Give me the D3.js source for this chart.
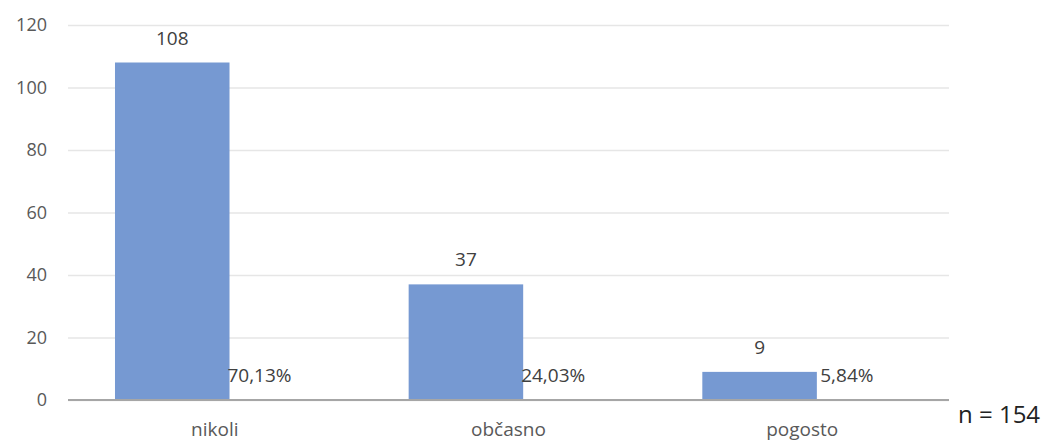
<!DOCTYPE html>
<html>
<head>
<meta charset="utf-8">
<script src="https://cdn.jsdelivr.net/npm/d3@7"></script>
<style>
  body { margin: 0; background: #fff; }
  text { font-family: "Open Sans", sans-serif; }
</style>
</head>
<body>
<script>
const width = 1047;
const height = 443;

const categories = ['nikoli', 'občasno', 'pogosto'];
const counts = [108, 37, 9];
const shares = ['70,13%', '24,03%', '5,84%'];
const yTicks = [0, 20, 40, 60, 80, 100, 120];
const total = 'n = 154';

const plot = { left: 68, right: 949, top: 25, bottom: 400 };

const svg = d3.select('body')
  .append('svg')
    .attr('viewBox', [0, 0, width, height].join(' '))
    .attr('width', width)
    .attr('height', height);

const x = d3.scaleBand()
  .domain(categories)
  .range([plot.left, plot.right]);

// bars sit left of the category centre (second, invisible series holds the %)
const barOffset = 0.16 * x.step();
const barWidth = 0.39 * x.step();

const y = d3.scaleLinear()
  .domain([0, 120])
  .range([plot.bottom, plot.top]);

const yAxis = d3.axisLeft(y)
  .tickValues(yTicks)
  .tickSizeInner(-(plot.right - plot.left))
  .tickSizeOuter(0)
  .tickPadding(21);

svg.append('g')
    .attr('class', 'y axis')
    .attr('transform', `translate(${plot.left}, 0)`)
    .call(yAxis)
    .call(g => g.select('.domain').remove())
    .call(g => g.selectAll('.tick line').attr('stroke', '#e6e6e6').attr('stroke-width', 1.5))
    .call(g => g.selectAll('.tick text')
      .attr('fill', '#595959')
      .style('font-size', '18px'));

svg.append('g')
  .selectAll('rect')
  .data(counts)
  .enter()
    .append('rect')
    .attr('x', (d, i) => x(categories[i]) + barOffset)
    .attr('y', d => y(d))
    .attr('width', barWidth)
    .attr('height', d => y(0) - y(d))
    .attr('fill', '#7699d2');

// baseline
svg.append('line')
  .attr('x1', plot.left)
  .attr('x2', plot.right)
  .attr('y1', y(0))
  .attr('y2', y(0))
  .attr('stroke', '#a6a6a6')
  .attr('stroke-width', 2);

// count labels
svg.append('g')
  .selectAll('text')
  .data(counts)
  .enter()
    .append('text')
    .attr('x', (d, i) => x(categories[i]) + barOffset + barWidth / 2)
    .attr('y', d => y(d) - 18)
    .attr('text-anchor', 'middle')
    .attr('fill', '#404040')
    .style('font-size', '19px')
    .text(d => d);

// share labels
svg.append('g')
  .selectAll('text')
  .data(shares)
  .enter()
    .append('text')
    .attr('x', (d, i) => x(categories[i]) + barOffset + barWidth + 30)
    .attr('y', y(0) - 18)
    .attr('text-anchor', 'middle')
    .attr('fill', '#404040')
    .style('font-size', '19px')
    .text(d => d);

// category labels
svg.append('g')
  .selectAll('text')
  .data(categories)
  .enter()
    .append('text')
    .attr('x', d => x(d) + x.bandwidth() / 2)
    .attr('y', 436)
    .attr('text-anchor', 'middle')
    .attr('fill', '#595959')
    .style('font-size', '19px')
    .text(d => d);

svg.append('text')
  .attr('x', 958)
  .attr('y', 423)
  .attr('fill', '#222')
  .style('font-size', '24px')
  .text(total);
</script>
</body>
</html>
